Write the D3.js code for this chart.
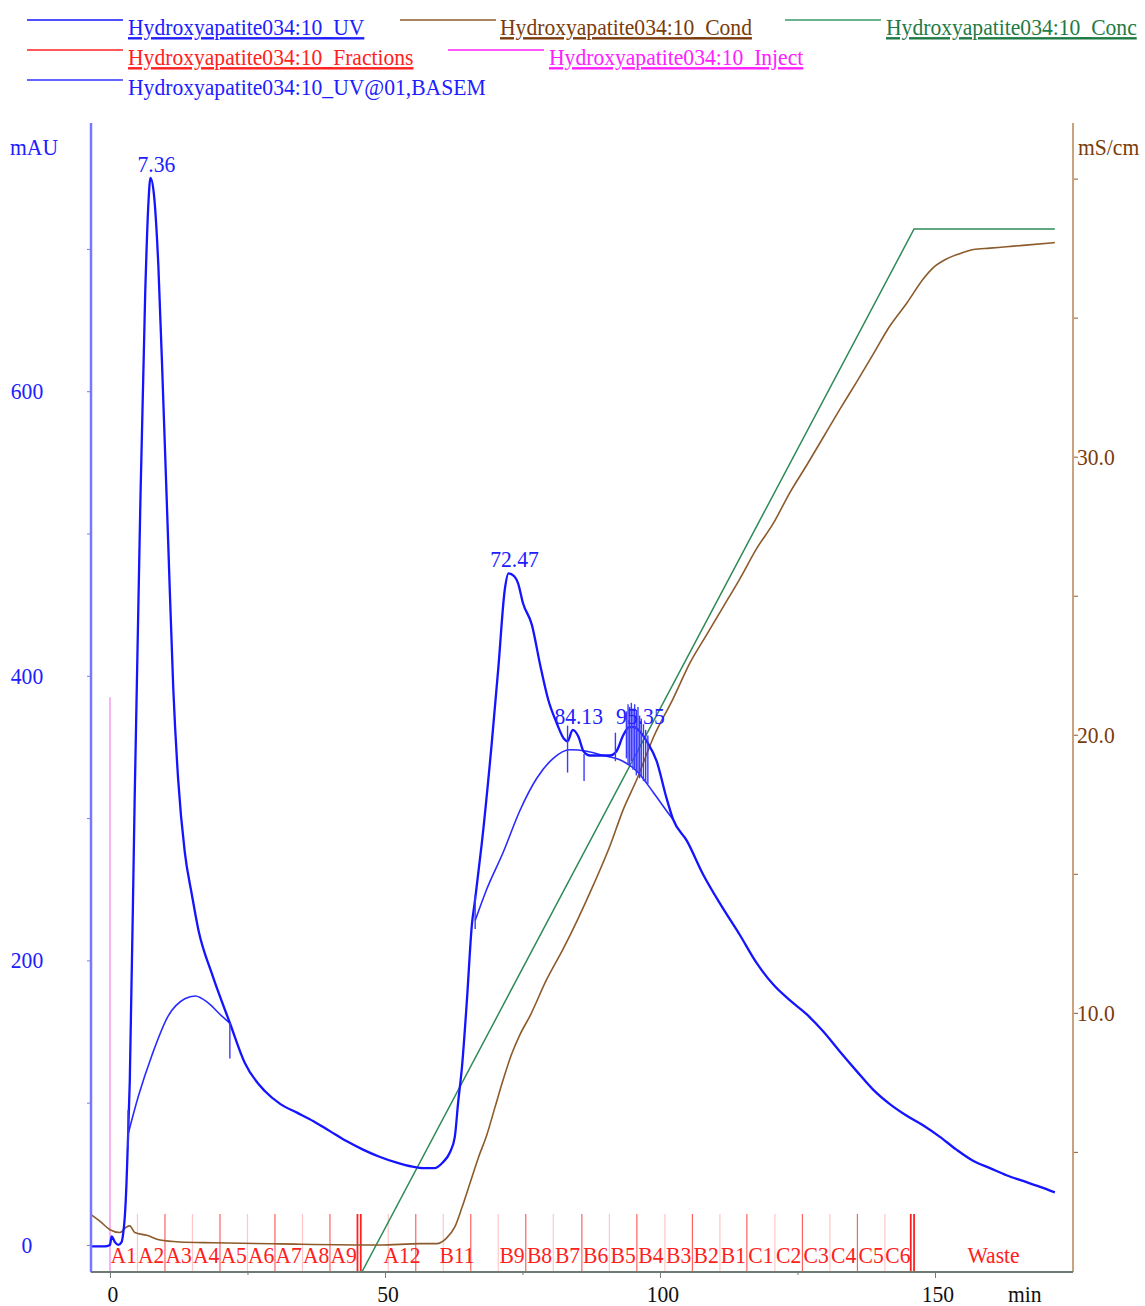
<!DOCTYPE html>
<html>
<head>
<meta charset="utf-8">
<script src="https://cdn.jsdelivr.net/npm/d3@7"></script>
<style>
  body { margin: 0; background: #fff; }
  svg { display: block; }
  text { font-family: "Liberation Serif", "Times New Roman", serif; font-size: 24px; }
</style>
</head>
<body>
<svg id="svg" width="1145" height="1306"></svg>
<script>
// ---- data (time in min) ----
var uvTime = [-3.5, -1, 0, 0.3, 0.9, 1.5, 2.1, 2.4, 2.7, 3.0, 3.2, 3.6, 4.5, 5.5, 6.4, 7.0, 7.36, 8.0, 8.8, 9.7, 10.6, 11.5, 12.4, 13.6, 14.9, 16.1, 18.5, 21.8, 24.5, 28.2, 31, 34, 37, 40, 43, 46, 49, 52, 55, 57, 59, 60.5, 61.8, 62.7, 63.3, 64, 64.9, 65.8, 66.4, 67.6, 69.4, 70.6, 71.8, 72.47, 73.5, 74.2, 75.1, 76.7, 78.2, 79.7, 81.2, 82.5, 83.2, 84.13, 85.2, 86.1, 87.3, 89.1, 90.9, 92.1, 93.3, 94.4, 95.35, 96.3, 97.6, 99.4, 101.2, 102.4, 104.9, 107.9, 110.9, 114.5, 117.6, 120.6, 123.6, 126.7, 129.7, 132.7, 135.8, 138.8, 141.8, 144.8, 147.9, 150.9, 153.9, 157, 160, 163, 166, 169, 171.8];
var uvVal = [-1, -1, 0, 6, 2, 0, 2, 8, 20, 43, 66, 115, 316, 517, 668, 733, 750, 738, 688, 593, 492, 392, 327, 276, 246, 221, 191, 156, 128, 108, 99, 93, 87, 80, 73, 67, 62, 58, 55, 54, 54, 58, 65, 76, 100, 125, 172, 225, 243, 282, 352, 405, 461, 472, 470, 465, 451, 436, 408, 383, 367, 356, 354, 362, 357, 347, 344, 344, 344, 347, 358, 364, 364, 361, 354, 340, 314, 299, 284, 260, 240, 218, 198, 183, 172, 162, 150, 136, 122, 109, 99, 91, 84, 76, 67, 59, 54, 49, 45, 41, 37];

// UV@01,BASEM : the two stretches where the baseline leaves the signal
var base1Time = [3.3, 5.2, 7.6, 10.6, 13.6, 15.5, 17.9, 20.3, 21.8];
var base1Val = [78, 105, 133, 161, 173, 175, 170, 161, 156];
var base2Time = [66.4, 68.5, 71.5, 74.5, 77.6, 80.6, 83.6, 86.7, 89.7, 92.7, 95.8, 98.8, 101.8, 102.4];
var base2Val = [228, 250, 276, 305, 328, 342, 348, 347, 344, 341, 333, 318, 302, 299];

var condTime = [-3.5, -1.8, 0, 1.8, 3.0, 3.6, 4.5, 6.7, 9.1, 12.7, 18.8, 31, 49, 56.4, 59.4, 61.2, 62.7, 64, 65.5, 67, 68.5, 70, 71.5, 73, 74.5, 76.4, 79.4, 82.4, 84.9, 87.9, 90.9, 93.3, 95.8, 98.8, 102.4, 105.5, 108.5, 111.5, 114.5, 117.6, 120.6, 123.6, 126.7, 129.7, 132.7, 135.8, 138.8, 141.8, 144.8, 147.9, 149.7, 152, 154.5, 157, 160, 163, 166, 171.8];
var condVal = [2.75, 2.5, 2.2, 2.1, 2.3, 2.34, 2.1, 2.0, 1.83, 1.76, 1.73, 1.69, 1.65, 1.7, 1.7, 1.9, 2.3, 3.0, 3.9, 4.8, 5.6, 6.6, 7.6, 8.5, 9.2, 9.9, 11.2, 12.3, 13.3, 14.6, 16.0, 17.3, 18.4, 19.9, 21.3, 22.6, 23.6, 24.6, 25.6, 26.7, 27.6, 28.7, 29.7, 30.7, 31.7, 32.7, 33.7, 34.7, 35.5, 36.4, 36.8, 37.1, 37.3, 37.45, 37.5, 37.55, 37.6, 37.7];

var concTime = [-3.5, 45.8, 146.2, 171.8];
var concVal = [0, 0, 100, 100];

var fracTime = [0, 5, 10, 15, 20, 25, 30, 35, 40, 45, 45.6, 50.6, 55.6, 60.6, 65.6, 70.6, 75.6, 80.6, 85.8, 90.8, 95.8, 100.9, 105.9, 110.9, 115.8, 120.9, 125.9, 130.9, 135.9, 140.9, 145.6, 146.2];
var fracName = ["A1", "A2", "A3", "A4", "A5", "A6", "A7", "A8", "A9", "", "", "A12", "", "B11", "", "B9", "B8", "B7", "B6", "B5", "B4", "B3", "B2", "B1", "C1", "C2", "C3", "C4", "C5", "C6", "", "Waste"];

var injectTime = [0];
var injectVal = [385];

var peakTime = [7.36, 72.47, 84.13, 95.35];
var peakVal = [750, 472, 362, 362];

var markTime = [3.3, 21.8, 66.4, 83.2, 86.2, 91.9, 93.9, 94.2, 94.5, 94.8, 95.1, 95.4, 95.7, 96.0, 96.3, 96.6, 97.0, 97.4, 97.8];
var markTop = [95, 156, 246, 365, 345, 360, 375, 380, 378, 381, 377, 380, 376, 378, 372, 370, 366, 362, 358];
var markBottom = [68, 131, 222, 332, 326, 340, 342, 338, 336, 340, 334, 335, 330, 332, 328, 330, 326, 325, 324];

var legendNames = ["Hydroxyapatite034:10_UV", "Hydroxyapatite034:10_Cond", "Hydroxyapatite034:10_Conc",
                   "Hydroxyapatite034:10_Fractions", "Hydroxyapatite034:10_Inject",
                   "Hydroxyapatite034:10_UV@01,BASEM"];

var uvTicks = [0, 200, 400, 600];
var condTicks = [10, 20, 30];
var timeTicks = [0, 50, 100, 150];

// ---- layout ----
var svg = d3.select("#svg");
var plot = { left: 91, right: 1073, top: 123, bottom: 1272 };

var x = d3.scaleLinear().domain([-3.45, 175.1]).range([plot.left, plot.right]);
var yUV = d3.scaleLinear().domain([-19, 788.5]).range([plot.bottom, plot.top]);
var yCond = d3.scaleLinear().domain([0.68, 42.0]).range([plot.bottom, plot.top]);
var yConc = d3.scaleLinear().domain([0, 100]).range([plot.bottom, 229]);

var col = {
  uv: "#1414ff", uvAxis: "#7878ff", uvText: "#2020ff",
  cond: "#8c5a2b", condAxis: "#c9a27e", condText: "#7a3c0c",
  conc: "#2e8b57", concText: "#1f7a45",
  frac: "#ff2020", fracLight: "#ffb0b0",
  inject: "#ff20ff", injectLine: "#f6b4f2",
  axis: "#6f7a72"
};

// text helper: the original font is drawn a bit condensed
function label(g, px, py, str, fill, anchor) {
  return g.append("text")
    .attr("transform", "translate(" + px + "," + py + ") scale(0.9,1)")
    .attr("text-anchor", anchor || "start")
    .attr("fill", fill)
    .text(str);
}

// ---- legend ----
var legend = svg.append("g");
var legendRows = [
  { i: 0, lx: 27, tx: 128, y: 20, c: col.uv, tc: col.uvText, u: true },
  { i: 1, lx: 400, tx: 500, y: 20, c: col.cond, tc: col.condText, u: true },
  { i: 2, lx: 785, tx: 886, y: 20, c: "#3a9a6a", tc: col.concText, u: true },
  { i: 3, lx: 27, tx: 128, y: 50, c: col.frac, tc: col.frac, u: true },
  { i: 4, lx: 448, tx: 549, y: 50, c: col.inject, tc: col.inject, u: true },
  { i: 5, lx: 27, tx: 128, y: 80, c: "#3030ff", tc: col.uvText, u: false }
];
legendRows.forEach(function(r) {
  legend.append("line")
    .attr("x1", r.lx).attr("x2", r.lx + 96)
    .attr("y1", r.y).attr("y2", r.y)
    .attr("stroke", r.c).attr("stroke-width", 1.5);
  var t = label(legend, r.tx, r.y + 15, legendNames[r.i], r.tc);
  if (r.u) t.style("text-decoration", "underline");
});

// ---- fractions and inject ----
var fracG = svg.append("g");
fracG.selectAll("line.frac")
  .data(fracTime)
  .enter().append("line")
  .attr("class", "frac")
  .attr("x1", function(d) { return x(d); })
  .attr("x2", function(d) { return x(d); })
  .attr("y1", 1214).attr("y2", plot.bottom)
  .attr("stroke", function(d, i) { return (i % 2 === 0 || i === 9 || i === 10 || i >= 30) ? col.frac : col.fracLight; })
  .attr("stroke-width", function(d, i) { return (i === 9 || i === 10 || i >= 30) ? 1.8 : 1.2; })
  .attr("stroke-opacity", function(d, i) { return (i === 9 || i === 10 || i >= 30) ? 1 : 0.7; });

fracTime.forEach(function(t, i) {
  if (!fracName[i]) return;
  var end = i + 1 < fracTime.length ? fracTime[i + 1] : x.domain()[1];
  label(fracG, (x(t) + x(end)) / 2, 1263, fracName[i], col.frac, "middle");
});

svg.append("g").selectAll("line")
  .data(injectTime)
  .enter().append("line")
  .attr("x1", function(d) { return x(d); })
  .attr("x2", function(d) { return x(d); })
  .attr("y1", function(d, i) { return yUV(injectVal[i]); })
  .attr("y2", plot.bottom)
  .attr("stroke", col.injectLine).attr("stroke-width", 2);

// ---- curves ----
function series(ts, vs) { return ts.map(function(t, i) { return [t, vs[i]]; }); }

var lineUV = d3.line().x(function(d) { return x(d[0]); }).y(function(d) { return yUV(d[1]); }).curve(d3.curveMonotoneX);
var lineCond = d3.line().x(function(d) { return x(d[0]); }).y(function(d) { return yCond(d[1]); }).curve(d3.curveMonotoneX);
var lineConc = d3.line().x(function(d) { return x(d[0]); }).y(function(d) { return yConc(d[1]); });

svg.append("path")
  .attr("d", lineConc(series(concTime, concVal)))
  .attr("fill", "none").attr("stroke", col.conc).attr("stroke-width", 1.5);

svg.append("path")
  .attr("d", lineCond(series(condTime, condVal)))
  .attr("fill", "none").attr("stroke", col.cond).attr("stroke-width", 1.6);

[series(base1Time, base1Val), series(base2Time, base2Val)].forEach(function(s) {
  svg.append("path")
    .attr("d", lineUV(s))
    .attr("fill", "none").attr("stroke", "#2a2aff").attr("stroke-width", 1.6);
});

svg.append("path")
  .attr("d", lineUV(series(uvTime, uvVal)))
  .attr("fill", "none").attr("stroke", col.uv).attr("stroke-width", 2.3)
  .attr("stroke-linejoin", "round");

// peak markers
svg.append("g").selectAll("line")
  .data(markTime)
  .enter().append("line")
  .attr("x1", function(d) { return x(d); })
  .attr("x2", function(d) { return x(d); })
  .attr("y1", function(d, i) { return yUV(markTop[i]); })
  .attr("y2", function(d, i) { return yUV(markBottom[i]); })
  .attr("stroke", "#3a3aff").attr("stroke-width", 1.4);

// peak labels
var peakG = svg.append("g");
peakTime.forEach(function(t, i) {
  label(peakG, x(t) + 6, yUV(peakVal[i]) - 6, d3.format(".2f")(t), col.uvText, "middle");
});

// ---- axes ----
var axL = svg.append("g").attr("transform", "translate(" + plot.left + ",0)")
  .call(d3.axisLeft(yUV).tickValues(d3.range(0, 800, 100)).tickSize(4).tickFormat(""));
axL.select(".domain").remove();
axL.selectAll(".tick line").attr("stroke", col.uvAxis);
svg.append("line").attr("x1", plot.left).attr("x2", plot.left)
  .attr("y1", plot.top).attr("y2", plot.bottom)
  .attr("stroke", col.uvAxis).attr("stroke-width", 2.5);
uvTicks.forEach(function(v) { label(svg, 27, yUV(v) + 8, String(v), col.uvText, "middle"); });
label(svg, 10, 155, "mAU", col.uvText);

var axR = svg.append("g").attr("transform", "translate(" + plot.right + ",0)")
  .call(d3.axisRight(yCond).tickValues(d3.range(5, 45, 5)).tickSize(5).tickFormat(""));
axR.select(".domain").remove();
axR.selectAll(".tick line").attr("stroke", col.cond);
svg.append("line").attr("x1", plot.right).attr("x2", plot.right)
  .attr("y1", plot.top).attr("y2", plot.bottom)
  .attr("stroke", col.condAxis).attr("stroke-width", 2);
condTicks.forEach(function(v) { label(svg, 1077, yCond(v) + 8, d3.format(".1f")(v), col.condText); });
label(svg, 1078, 155, "mS/cm", col.condText);

var axB = svg.append("g").attr("transform", "translate(0," + plot.bottom + ")")
  .call(d3.axisBottom(x).tickValues(d3.range(0, 175, 25)).tickSizeOuter(0).tickFormat(""));
axB.select(".domain").remove();
axB.selectAll(".tick line")
  .attr("stroke", col.axis)
  .attr("y2", function(d) { return d % 50 === 0 ? 6 : 3; });
svg.append("line").attr("x1", plot.left).attr("x2", plot.right)
  .attr("y1", plot.bottom).attr("y2", plot.bottom)
  .attr("stroke", col.axis).attr("stroke-width", 2);
timeTicks.forEach(function(v) { label(svg, x(v) + 3, 1302, String(v), "#111", "middle"); });
label(svg, 1008, 1302, "min", "#111");
</script>
</body>
</html>
